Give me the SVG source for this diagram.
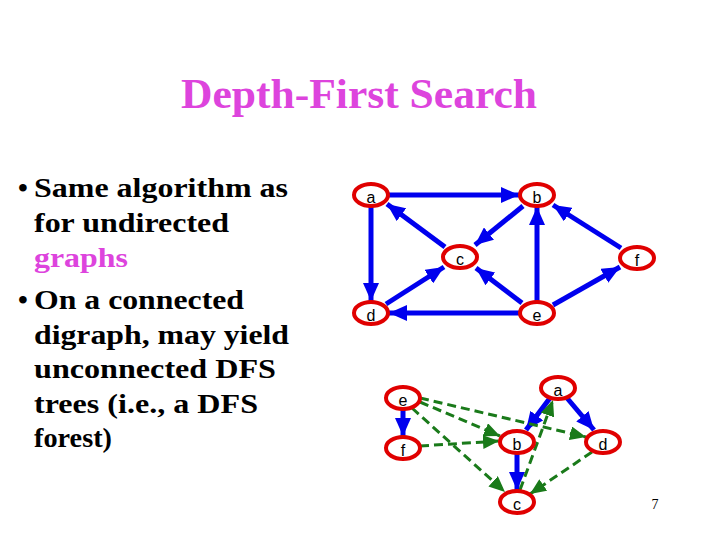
<svg xmlns="http://www.w3.org/2000/svg" width="720" height="540" viewBox="0 0 720 540">
<style>
.t{font-family:"Liberation Serif",serif;font-weight:bold;font-size:28px;fill:#000}
.n ellipse{fill:#fff;stroke:#e00000;stroke-width:4}
.n text{font-family:"Liberation Sans",sans-serif;font-size:16px;text-anchor:middle;fill:#000}
.bl{stroke:#0000ee;stroke-width:5;marker-end:url(#ab)}
.gr{stroke:#1a7a1a;stroke-width:3;stroke-dasharray:9 5;marker-end:url(#ag)}
</style>
<defs>
<marker id="ab" markerUnits="userSpaceOnUse" markerWidth="20" markerHeight="16" refX="18" refY="8" orient="auto"><path d="M0,0L18,8L0,16z" fill="#0000ee"/></marker>
<marker id="ag" markerUnits="userSpaceOnUse" markerWidth="18" markerHeight="14" refX="16" refY="7" orient="auto"><path d="M0,0L16,7L0,14z" fill="#1a7a1a"/></marker>
</defs>
<rect width="720" height="540" fill="#fff"/>
<text x="181" y="108" textLength="356" lengthAdjust="spacingAndGlyphs" style="font-family:'Liberation Serif',serif;font-weight:bold;font-size:42px;fill:#dd44dd">Depth-First Search</text>
<text class="t" x="18" y="197">•</text>
<text class="t" x="34" y="197" textLength="254" lengthAdjust="spacingAndGlyphs">Same algorithm as</text>
<text class="t" x="34" y="232" textLength="195" lengthAdjust="spacingAndGlyphs">for undirected</text>
<text class="t" x="34" y="267" textLength="94" lengthAdjust="spacingAndGlyphs" style="fill:#dd44dd">graphs</text>
<text class="t" x="18" y="309">•</text>
<text class="t" x="34" y="309" textLength="210" lengthAdjust="spacingAndGlyphs">On a connected</text>
<text class="t" x="34" y="344" textLength="255" lengthAdjust="spacingAndGlyphs">digraph, may yield</text>
<text class="t" x="34" y="378" textLength="242" lengthAdjust="spacingAndGlyphs">unconnected DFS</text>
<text class="t" x="34" y="413" textLength="224" lengthAdjust="spacingAndGlyphs">trees (i.e., a DFS</text>
<text class="t" x="34" y="447" textLength="78" lengthAdjust="spacingAndGlyphs">forest)</text>
<text x="655" y="509" text-anchor="middle" style="font-family:'Liberation Serif',serif;font-size:14px">7</text>
<g id="connectors">
<line class="bl" x1="389" y1="195" x2="519" y2="195"/>
<line class="bl" x1="371" y1="207" x2="371" y2="301"/>
<line class="bl" x1="445" y1="247" x2="387" y2="204"/>
<line class="bl" x1="523" y1="206" x2="475" y2="245"/>
<line class="bl" x1="386" y1="304" x2="444" y2="267"/>
<line class="bl" x1="522" y1="303" x2="476" y2="268"/>
<line class="bl" x1="537" y1="301" x2="537" y2="207"/>
<line class="bl" x1="519" y1="313" x2="389" y2="313"/>
<line class="bl" x1="553" y1="305" x2="620" y2="267"/>
<line class="bl" x1="621" y1="248" x2="553" y2="205"/>
<line class="bl" x1="403" y1="410" x2="403" y2="436"/>
<line class="bl" x1="550" y1="398" x2="526" y2="430"/>
<line class="bl" x1="567" y1="398" x2="594" y2="430"/>
<line class="bl" x1="517" y1="454" x2="517" y2="490"/>
<line class="gr" x1="420" y1="402" x2="500" y2="436"/>
<line class="gr" x1="420" y1="398" x2="586" y2="437"/>
<line class="gr" x1="412" y1="408" x2="505" y2="492"/>
<line class="gr" x1="420" y1="446" x2="499" y2="441"/>
<line class="gr" x1="520" y1="490" x2="553" y2="400"/>
<line class="gr" x1="592" y1="452" x2="530" y2="494"/>
</g>
<g id="a1" class="n"><ellipse cx="371" cy="195" rx="17" ry="11"/><text x="371" y="203">a</text></g>
<g id="b1" class="n"><ellipse cx="537" cy="195" rx="17" ry="11"/><text x="537" y="203">b</text></g>
<g id="c1" class="n"><ellipse cx="460" cy="257" rx="17" ry="11"/><text x="460" y="265">c</text></g>
<g id="f1" class="n"><ellipse cx="637" cy="258" rx="17" ry="11"/><text x="637" y="266">f</text></g>
<g id="d1" class="n"><ellipse cx="371" cy="313" rx="17" ry="11"/><text x="371" y="321">d</text></g>
<g id="e1" class="n"><ellipse cx="537" cy="313" rx="17" ry="11"/><text x="537" y="321">e</text></g>
<g id="e2" class="n"><ellipse cx="403" cy="398" rx="17" ry="11"/><text x="403" y="406">e</text></g>
<g id="f2" class="n"><ellipse cx="403" cy="448" rx="17" ry="11"/><text x="403" y="456">f</text></g>
<g id="a2" class="n"><ellipse cx="558" cy="388" rx="17" ry="11"/><text x="558" y="396">a</text></g>
<g id="b2" class="n"><ellipse cx="517" cy="442" rx="17" ry="11"/><text x="517" y="450">b</text></g>
<g id="d2" class="n"><ellipse cx="603" cy="442" rx="17" ry="11"/><text x="603" y="450">d</text></g>
<g id="c2" class="n"><ellipse cx="517" cy="502" rx="17" ry="11"/><text x="517" y="510">c</text></g>
</svg>
